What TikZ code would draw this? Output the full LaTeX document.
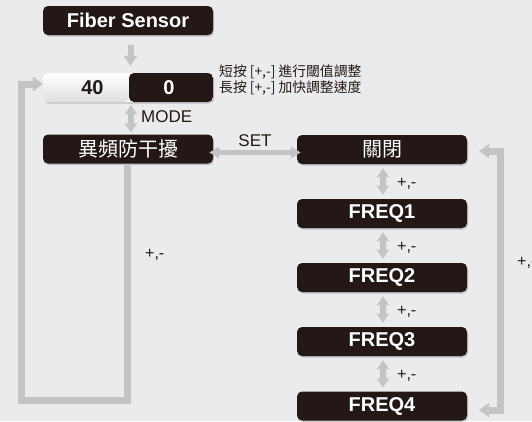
\documentclass[tikz,border=0pt]{standalone}
\usepackage{fontspec}
\setmainfont{Liberation Sans}
\newfontfamily\cjk{Noto Sans CJK TC}
\usetikzlibrary{arrows.meta,shadows}
\definecolor{dk}{HTML}{231815}
\definecolor{ar}{HTML}{C4C4C6}
\definecolor{bg}{HTML}{EBEBED}
\begin{document}
\begin{tikzpicture}[x=1pt,y=-1pt,
  shad/.style={drop shadow={shadow xshift=1pt,shadow yshift=-1.5pt,fill=black,opacity=0.18}},
  box/.style={rectangle, rounded corners=5pt, fill=dk, minimum width=170pt,
    minimum height=29pt, inner sep=0pt, text=white, shad,
    font=\fontsize{20}{22}\selectfont\bfseries},
  cjkbox/.style={box, font=\cjk\fontsize{20}{22}\selectfont},
  valbox/.style={rectangle, rounded corners=5pt, fill=white, minimum width=170pt,
    minimum height=29pt, inner sep=0pt, shad,
    path picture={
      \shade[top color=white, bottom color=gray!25]
        (path picture bounding box.north west) rectangle ([xshift=86pt]path picture bounding box.south west);
      \fill[dk] ([xshift=86pt]path picture bounding box.north west) rectangle (path picture bounding box.south east);
    }},
  lbl/.style={text=dk, inner sep=0pt, font=\fontsize{17}{19}\selectfont},
  pm/.style={text=dk, inner sep=0pt, anchor=west, font=\fontsize{16}{18}\selectfont},
  note/.style={text=dk, inner sep=0pt, anchor=west, font=\cjk\fontsize{13.8}{15}\selectfont},
  downar/.style={draw=ar, line width=6pt, -{Triangle[length=10pt,width=13pt]}},
  dblar/.style={draw=ar, line width=6pt, {Triangle[length=9pt,width=12pt]}-{Triangle[length=9pt,width=12pt]}},
  setar/.style={draw=ar, line width=4.5pt, {Triangle[length=10pt,width=11pt]}-{Triangle[length=10pt,width=11pt]}},
  loopline/.style={draw=ar, line width=7pt, line join=miter},
  looptip/.style={-{Triangle[length=10pt,width=14pt]}},
  looptips/.style={{Triangle[length=10pt,width=14pt]}-{Triangle[length=10pt,width=14pt]}},
]
\useasboundingbox (0,0) rectangle (532,421);
\fill[bg] (0,0) rectangle (532,421);

% nodes
\node[box] (fiber) at (128,20.5) {Fiber Sensor};
\node[valbox] (val) at (128,87.5) {};
\node[text=dk, inner sep=0pt, font=\fontsize{20}{22}\selectfont\bfseries] (t40) at (92.5,87.5) {40};
\node[text=white, inner sep=0pt, font=\fontsize{20}{22}\selectfont\bfseries] (t0) at (169,87.5) {0};
\node[cjkbox] (yi) at (128,149) {異頻防干擾};
\node[cjkbox] (guan) at (382,149.5) {關閉};
\node[box] (f1) at (382,213.5) {FREQ1};
\node[box] (f2) at (382,277.5) {FREQ2};
\node[box] (f3) at (382,341.5) {FREQ3};
\node[box] (f4) at (382,406) {FREQ4};

% notes
\node[note] (n1) at (219,72) {短按 [+,-] 進行閾值調整};
\node[note] (n2) at (219,88) {長按 [+,-] 加快調整速度};

% arrows
\draw[downar] ([xshift=2.5pt,yshift=-10pt]fiber.south) -- ([xshift=2.5pt,yshift=7pt]val.north);
\draw[dblar] ([xshift=3pt,yshift=-3pt]val.south) -- ([xshift=3pt,yshift=2pt]yi.north);
\node[lbl, anchor=west] (mode) at (141,117) {MODE};
\draw[setar] ([xshift=-4pt,yshift=-3.5pt]yi.east) -- ([xshift=4pt,yshift=-3pt]guan.west);
\node[lbl] (set) at (255,141) {SET};

\draw[dblar] ([xshift=1pt,yshift=-4pt]guan.south) -- ([xshift=1pt,yshift=4pt]f1.north);
\draw[dblar] ([xshift=1pt,yshift=-4pt]f1.south) -- ([xshift=1pt,yshift=4pt]f2.north);
\draw[dblar] ([xshift=1pt,yshift=-4pt]f2.south) -- ([xshift=1pt,yshift=4pt]f3.north);
\draw[dblar] ([xshift=1pt,yshift=-4pt]f3.south) -- ([xshift=1pt,yshift=4pt]f4.north);
\node[pm] (p1) at (397,184) {+,-};
\node[pm] (p2) at (397,248) {+,-};
\node[pm] (p3) at (397,312) {+,-};
\node[pm] (p4) at (397,376) {+,-};

% left loop
\coordinate (LL) at (21.5,400);
\draw[loopline, looptip] ([xshift=-0.5pt]yi.south) |- (LL) |- ([yshift=3.5pt]val.west);
\node[pm] (pl) at (145,255) {+,-};

% right loop
\coordinate (RR) at (500.5,151);
\draw[loopline, looptips] ([xshift=12pt,yshift=-1.5pt]guan.east) -- (RR) |- ([xshift=12pt,yshift=-4pt]f4.east);
\node[pm] (pr) at (517,263) {+,-};
\end{tikzpicture}
\end{document}
